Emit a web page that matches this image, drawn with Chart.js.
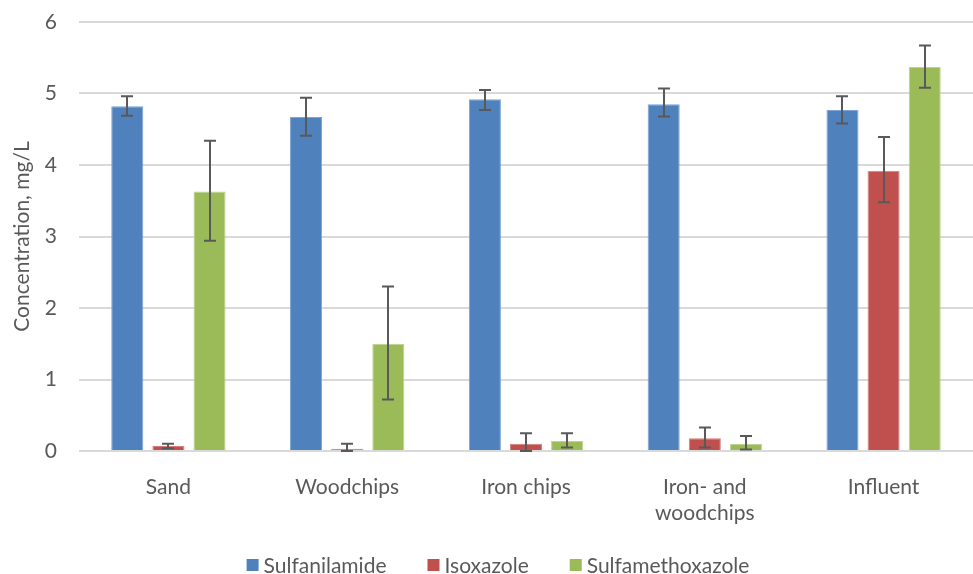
<!DOCTYPE html>
<html>
<head>
<meta charset="utf-8">
<script src="https://cdn.jsdelivr.net/npm/chart.js@4/dist/chart.umd.min.js"></script>
<style>
  html, body { margin: 0; padding: 0; background: #fff; }
  #wrap { width: 973px; height: 574px; position: relative; }
</style>
</head>
<body>
<div id="wrap"><canvas id="chart"></canvas></div>
<script>
// ── Data ──
const categories = ['Sand', 'Woodchips', 'Iron chips', ['Iron- and', 'woodchips'], 'Influent'];
const yTicks = [0, 1, 2, 3, 4, 5, 6];

const sulfanilamide     = [4.82, 4.67, 4.92, 4.85, 4.77];
const sulfanilamideLow  = [4.69, 4.41, 4.77, 4.68, 4.58];
const sulfanilamideHigh = [4.96, 4.94, 5.05, 5.07, 4.96];

const isoxazole     = [0.07, 0.03, 0.10, 0.18, 3.92];
const isoxazoleLow  = [0.04, 0.00, 0.00, 0.05, 3.48];
const isoxazoleHigh = [0.10, 0.10, 0.25, 0.33, 4.39];

const sulfamethoxazole     = [3.63, 1.50, 0.14, 0.10, 5.37];
const sulfamethoxazoleLow  = [2.94, 0.72, 0.05, 0.02, 5.08];
const sulfamethoxazoleHigh = [4.34, 2.30, 0.25, 0.21, 5.67];

const TEXT = '#595959';
const FONT = 'Lato, "Open Sans", sans-serif';

// ── Error bars drawn from the y scale ──
const errorBars = {
  id: 'errorBars',
  afterDatasetsDraw(chart) {
    const { ctx, scales: { y } } = chart;
    ctx.save();
    ctx.strokeStyle = '#595959';
    ctx.lineWidth = 2;
    chart.data.datasets.forEach((ds, i) => {
      const meta = chart.getDatasetMeta(i);
      meta.data.forEach((bar, j) => {
        const top = y.getPixelForValue(ds.errHigh[j]);
        const bot = y.getPixelForValue(ds.errLow[j]);
        const x = Math.round(bar.x);
        ctx.beginPath();
        ctx.moveTo(x, top); ctx.lineTo(x, bot);
        ctx.moveTo(x - 6, top); ctx.lineTo(x + 6, top);
        ctx.moveTo(x - 6, bot); ctx.lineTo(x + 6, bot);
        ctx.stroke();
      });
    });
    ctx.restore();
  }
};

// ── Bottom legend (wider spacing than the built-in one) ──
const bottomLegend = {
  id: 'bottomLegend',
  afterDraw(chart) {
    const { ctx } = chart;
    const sets = chart.data.datasets;
    ctx.save();
    ctx.font = '21px ' + FONT;
    ctx.textBaseline = 'middle';
    const box = 12, gapText = 5, gapItem = 41;
    const widths = sets.map(ds => box + gapText + ctx.measureText(ds.label).width);
    const total = widths.reduce((a, b) => a + b, 0) + gapItem * (sets.length - 1);
    let x = 498 - total / 2;
    const yMid = 565;
    sets.forEach((ds, i) => {
      ctx.fillStyle = ds.backgroundColor;
      ctx.fillRect(x, yMid - box / 2, box, box);
      ctx.fillStyle = TEXT;
      ctx.fillText(ds.label, x + box + gapText, yMid + 1);
      x += widths[i] + gapItem;
    });
    ctx.restore();
  }
};

function series(label, data, low, high, color, border) {
  return {
    label, data, errLow: low, errHigh: high,
    backgroundColor: color, borderColor: border, borderWidth: 1,
    categoryPercentage: 0.69, barPercentage: 0.78
  };
}

new Chart(document.getElementById('chart'), {
  type: 'bar',
  data: {
    labels: categories,
    datasets: [
      series('Sulfanilamide', sulfanilamide, sulfanilamideLow, sulfanilamideHigh, '#4F81BD', '#7DA2D4'),
      series('Isoxazole', isoxazole, isoxazoleLow, isoxazoleHigh, '#C0504D', '#D9807E'),
      series('Sulfamethoxazole', sulfamethoxazole, sulfamethoxazoleLow, sulfamethoxazoleHigh, '#9BBB59', '#BCD48E'),
    ]
  },
  options: {
    responsive: true, maintainAspectRatio: false, animation: false,
    layout: { padding: 0 },
    plugins: {
      tooltip: { enabled: false },
      legend: { display: false }
    },
    scales: {
      y: {
        min: 0, max: 6,
        afterBuildTicks: s => { s.ticks = yTicks.map(v => ({ value: v })); },
        afterFit: s => { s.width = 79; s.paddingTop = 22; s.paddingBottom = 0; },
        border: { display: false },
        grid: { color: '#D9D9D9', lineWidth: 2, drawTicks: false },
        ticks: { color: TEXT, font: { family: FONT, size: 21 }, padding: 22 },
        title: { display: true, text: 'Concentration, mg/L', color: TEXT, font: { family: FONT, size: 21 }, padding: { top: 10, bottom: 0 } }
      },
      x: {
        afterFit: s => { s.height = 123; },
        border: { display: false },
        grid: { display: false },
        ticks: { color: TEXT, font: { family: FONT, size: 21 }, padding: 16, maxRotation: 0 }
      }
    }
  },
  plugins: [errorBars, bottomLegend]
});
</script>
</body>
</html>
